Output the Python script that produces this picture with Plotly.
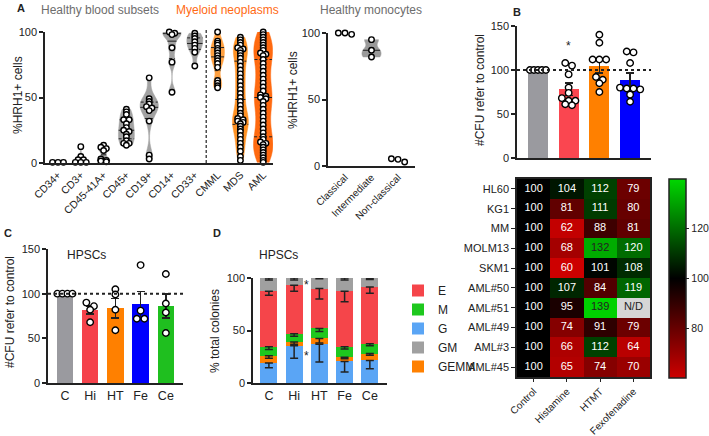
import numpy as np
import plotly.graph_objects as go

W, H = 709, 436
def X(px): return px / W
def Y(py): return 1 - py / H

FONT = "Arial, Liberation Sans, Helvetica, sans-serif"
INK = "#222222"

# ---------------- Panel A: %HRH1+ cells ----------------
a_categories = ["CD34+", "CD3+", "CD45-41A+", "CD45+", "CD19+", "CD14+", "CD33+", "CMML", "MDS", "AML"]
a_cd34 = [0.5, 0.5, 0.5]
a_cd3 = [12.5, 5, 2.5, 2.5, 0.5, 0.5, 0.5]
a_cd4541a = [13.5, 12, 11, 9.5, 3, 2, 1.5, 1]
a_cd45 = [41, 39, 37, 33, 33, 30, 27, 25, 24, 22, 20, 17, 15, 15, 13.5]
a_cd19 = [65, 49, 47, 45, 43, 42, 40, 32, 6, 3]
a_cd14 = [100, 99, 98, 88, 77, 54]
a_cd33 = [99, 97, 95, 92.5, 90, 87.5, 84.5, 74]
a_cmml = [100, 93, 91.5, 90, 87.5, 86, 84, 82, 80, 78, 76, 73, 63, 61, 59, 57.5]
a_mds = [96, 94, 92, 90, 88, 87, 86, 84, 82, 80, 77, 74, 71, 68, 65, 62, 59, 56, 53, 50,
         47, 44, 41, 38, 36, 34, 33, 32, 31, 30, 28, 26, 24, 21, 18, 15, 12, 9, 5, 2]
a_aml = [100, 98, 96, 94, 92, 90, 88, 86, 84, 83, 82, 79, 76, 73, 70, 67, 64, 61, 58, 55,
         52, 51, 50, 49, 47, 44, 41, 38, 35, 32, 29, 26, 23, 20, 18, 16, 15, 14, 12, 10,
         8, 6, 4, 2, 0.5]

mono_categories = ["Classical", "Intermediate", "Non-classical"]
mono_classical = [100, 100, 99]
mono_intermediate = [95, 87, 82]
mono_nonclassical = [5.5, 5, 3]

# ---------------- Panel B ----------------
b_treatments = ["Control", "Histamine", "HTMT", "Fexofenadine"]
b_means = [100, 78, 104.5, 88.5]
b_sem = [0, 7, 8, 8]
b_control_pts = [100, 100, 100, 100, 100]
b_histamine_pts = [108, 105, 95, 80, 74, 68, 65, 65, 61, 60]
b_htmt_pts = [140, 131, 112, 112, 112, 92, 89, 85, 75]
b_fexo_pts = [121, 120, 108, 80, 79, 79, 78, 72, 64]

hm_rows = ["HL60", "KG1", "MM", "MOLM13", "SKM1", "AML#50", "AML#51", "AML#49", "AML#3", "AML#45"]
hm_cols = ["Control", "Histamine", "HTMT", "Fexofenadine"]
hm_values = [
    [100, 104, 112, 79],
    [100, 81, 111, 80],
    [100, 62, 88, 81],
    [100, 68, 132, 120],
    [100, 60, 101, 108],
    [100, 107, 84, 119],
    [100, 95, 139, None],
    [100, 74, 91, 79],
    [100, 66, 112, 64],
    [100, 65, 74, 70],
]

# ---------------- Panel C ----------------
c_groups = ["C", "Hi", "HT", "Fe", "Ce"]
c_means = [100, 81.5, 83.5, 88.5, 86]
c_sem = [0, 4.5, 11, 14, 13.5]
c_points = [
    [100, 100, 100, 100],
    [90, 86, 82, 68],
    [105, 99, 82, 59],
    [132, 81, 72, 72],
    [122, 89, 79, 56],
]

# ---------------- Panel D ----------------
d_groups = ["C", "Hi", "HT", "Fe", "Ce"]
d_G = [19, 35.5, 37, 20.5, 21.5]
d_GEMM = [7, 3.5, 5.5, 4, 6.5]
d_M = [8.5, 8, 9.5, 10, 9.5]
d_E = [53, 46, 38, 53, 54]
d_GM = [12.5, 7, 10, 12.5, 8.5]
d_G_err = [4.5, 12, 17, 10, 8]
d_GEMM_err = [2.5, 2, 4.5, 1.5, 1.5]
d_M_err = [2.5, 2.5, 3, 2, 2]
d_E_err = [4, 5.5, 10, 10, 6]
d_GM_err = [2, 2, 0.8, 2, 1.5]

fig = go.Figure()


def swarm(vals, center, ythr, step):
    v = sorted(vals, reverse=True)
    groups = []
    for val in v:
        if groups and abs(groups[-1][0] - val) <= ythr:
            groups[-1].append(val)
        else:
            groups.append([val])
    xs, ys = [], []
    for g in groups:
        k = len(g)
        for j, val in enumerate(g):
            xs.append(center + (j - (k - 1) / 2) * step)
            ys.append(val)
    return xs, ys


def halfwidth(vals, bw, width, yq):
    v = np.asarray(vals, float)
    grid = np.linspace(v.min(), v.max(), 200)
    def dens(y):
        y = np.atleast_1d(y)
        return np.exp(-0.5 * ((y[None, :] - v[:, None]) / bw) ** 2).sum(0)
    m = dens(grid).max()
    return width / 2 * dens(yq) / m


med_x, med_y, q_x, q_y = {}, {}, {}, {}


def add_violin(vals, pos, xa, ya, width, bw, color, quart=True):
    fig.add_trace(go.Violin(
        x=[pos] * len(vals), y=vals, xaxis=xa, yaxis=ya, orientation="v",
        width=width, bandwidth=bw, spanmode="hard", scalemode="width",
        points=False, fillcolor=color, line=dict(color=color, width=0.5),
        box_visible=False, meanline_visible=False, showlegend=False,
        hoverinfo="skip"))
    key = (xa, ya)
    med_x.setdefault(key, []); med_y.setdefault(key, [])
    q_x.setdefault(key, []); q_y.setdefault(key, [])
    med = float(np.percentile(vals, 50))
    hw = float(halfwidth(vals, bw, width, med)[0])
    med_x[key] += [pos - hw, pos + hw, None]
    med_y[key] += [med, med, None]
    if quart:
        for p in (25, 75):
            q = float(np.percentile(vals, p))
            hwq = float(halfwidth(vals, bw, width, q)[0])
            q_x[key] += [pos - hwq, pos + hwq, None]
            q_y[key] += [q, q, None]


GRAY_V = "#a2a2a2"
a_series = [a_cd34, a_cd3, a_cd4541a, a_cd45, a_cd19, a_cd14, a_cd33, a_cmml, a_mds, a_aml]
a_vwidth = [0.3, 0.5, 0.55, 0.7, 0.8, 0.8, 0.7, 0.6, 0.7, 0.85]
a_bw = [1, 2, 2.5, 5, 6, 4, 4, 5, 7, 9]
a_vcolor = [GRAY_V] * 7 + ["#ffa040", "#ff9224", "#ff6a10"]
for i, vals in enumerate(a_series):
    if np.ptp(vals) > 0:
        add_violin(vals, i, "x", "y", a_vwidth[i], a_bw[i], a_vcolor[i])

add_violin(mono_intermediate, 1, "x2", "y2", 0.72, 3, "#9a9a9a", quart=False)

for key in med_x:
    xa, ya = key
    fig.add_trace(go.Scatter(x=med_x[key], y=med_y[key], xaxis=xa, yaxis=ya, mode="lines",
                             line=dict(color=INK, width=1), showlegend=False, hoverinfo="skip"))
    if q_x[key]:
        fig.add_trace(go.Scatter(x=q_x[key], y=q_y[key], xaxis=xa, yaxis=ya, mode="lines",
                                 line=dict(color=INK, width=1, dash="3px,2px"),
                                 showlegend=False, hoverinfo="skip"))

PT = dict(symbol="circle", color="white", line=dict(color="black", width=1.4))

ax_all, ay_all = [], []
for i, vals in enumerate(a_series):
    xs, ys = swarm(vals, i, 1.2, 0.24)
    ax_all += xs; ay_all += ys
fig.add_trace(go.Scatter(x=ax_all, y=ay_all, xaxis="x", yaxis="y", mode="markers",
                         marker=dict(size=5.5, **PT), cliponaxis=False, showlegend=False))

mx, my = [], []
for i, vals in enumerate([mono_classical, mono_intermediate, mono_nonclassical]):
    xs, ys = swarm(vals, i, 3, 0.25)
    mx += xs; my += ys
fig.add_trace(go.Scatter(x=mx, y=my, xaxis="x2", yaxis="y2", mode="markers",
                         marker=dict(size=5.5, **PT), cliponaxis=False, showlegend=False))

# ---------------- Panel B bars ----------------
b_colors = ["#9a9a9f", "#fa4650", "#ff8000", "#0000ff"]
fig.add_trace(go.Bar(x=list(range(4)), y=b_means, width=0.65, xaxis="x3", yaxis="y3",
                     marker=dict(color=b_colors, line=dict(width=0)),
                     error_y=dict(type="data", array=b_sem, color=INK, thickness=1.5, width=4),
                     showlegend=False, hoverinfo="skip"))
bx, by = [], []
for i, vals in enumerate([b_control_pts, b_histamine_pts, b_htmt_pts, b_fexo_pts]):
    step = 0.13 if i == 0 else 0.22
    xs, ys = swarm(vals, i, 4, step)
    bx += xs; by += ys
fig.add_trace(go.Scatter(x=bx, y=by, xaxis="x3", yaxis="y3", mode="markers",
                         marker=dict(size=6.5, **PT), cliponaxis=False, showlegend=False))

# ---------------- Heatmap ----------------
z = [[np.nan if v is None else v for v in row] for row in hm_values]
fig.add_trace(go.Heatmap(
    z=z, x=hm_cols, y=hm_rows, xaxis="x4", yaxis="y4", zmin=60, zmax=140,
    colorscale=[[0, "rgb(205,0,0)"], [0.5, "rgb(0,0,0)"], [1, "rgb(0,215,0)"]],
    hoverinfo="skip",
    colorbar=dict(x=X(669), xanchor="left", xref="paper", y=Y(278.5), yanchor="middle",
                  thickness=17, thicknessmode="pixels", len=199, lenmode="pixels",
                  outlinewidth=1.5, outlinecolor=INK, ticks="outside", ticklen=3,
                  tickcolor=INK, tickwidth=1, tickvals=[80, 100, 120],
                  tickfont=dict(size=10.5, color=INK, family=FONT), xpad=0, ypad=0)))
nd_mask = [[1 if v is None else np.nan for v in row] for row in hm_values]
fig.add_trace(go.Heatmap(z=nd_mask, x=hm_cols, y=hm_rows, xaxis="x4", yaxis="y4",
                         colorscale=[[0, "#d6d6d6"], [1, "#d6d6d6"]], showscale=False,
                         hoverinfo="skip"))
tx, ty, tt, tc = [], [], [], []
for r, row in enumerate(hm_values):
    for c, v in enumerate(row):
        tx.append(hm_cols[c]); ty.append(hm_rows[r])
        tt.append("N/D" if v is None else str(v))
        tc.append("#222222" if (v is None or v >= 130) else "white")
fig.add_trace(go.Scatter(x=tx, y=ty, text=tt, mode="text", xaxis="x4", yaxis="y4",
                         textfont=dict(color=tc, size=11, family=FONT), showlegend=False,
                         hoverinfo="skip"))

# ---------------- Panel C ----------------
c_colors = ["#9a9a9f", "#f5424b", "#ff8000", "#0000ff", "#1fbf1f"]
fig.add_trace(go.Bar(x=list(range(5)), y=c_means, width=0.66, xaxis="x5", yaxis="y5",
                     marker=dict(color=c_colors, line=dict(width=0)),
                     error_y=dict(type="data", array=c_sem, color=INK, thickness=1.5, width=4),
                     showlegend=False, hoverinfo="skip"))
cx, cy = [], []
for i, vals in enumerate(c_points):
    xs, ys = swarm(vals, i, 5, 0.2 if i == 0 else 0.3)
    cx += xs; cy += ys
fig.add_trace(go.Scatter(x=cx, y=cy, xaxis="x5", yaxis="y5", mode="markers",
                         marker=dict(size=6.5, **PT), cliponaxis=False, showlegend=False))

# ---------------- Panel D ----------------
d_stack = [("G", d_G, d_G_err, "#5aa5f5", 3), ("GEMM", d_GEMM, d_GEMM_err, "#ff8000", 5),
           ("M", d_M, d_M_err, "#1ec81e", 2), ("E", d_E, d_E_err, "#f5454a", 1),
           ("GM", d_GM, d_GM_err, "#a0a0a0", 4)]
idx = list(range(5))
for name, vals, err, col, rank in d_stack:
    fig.add_trace(go.Bar(x=idx, y=vals, width=0.67, xaxis="x6", yaxis="y6", name=name,
                         marker=dict(color=col, line=dict(width=0)), legendrank=rank,
                         showlegend=True, hoverinfo="skip"))
cum = np.zeros(5)
for name, vals, err, col, rank in d_stack:
    cum = cum + np.array(vals)
    fig.add_trace(go.Scatter(x=idx, y=cum.tolist(), xaxis="x6", yaxis="y6", mode="markers",
                             marker=dict(size=1, color="rgba(0,0,0,0)"),
                             error_y=dict(type="data", symmetric=False, array=[0] * 5,
                                          arrayminus=err, color=INK, thickness=1.5, width=4),
                             showlegend=False, hoverinfo="skip", cliponaxis=False))

# ---------------- Layout ----------------
def yax(dom, rng, tickvals, anchor):
    return dict(domain=dom, range=rng, tickvals=tickvals, anchor=anchor, showline=True,
                linecolor=INK, linewidth=1.5, ticks="outside", ticklen=4, tickwidth=1.5,
                tickcolor=INK, showgrid=False, zeroline=False, automargin=False,
                tickfont=dict(size=11, color=INK, family=FONT))

def xax(dom, rng, ticktext, anchor, angle=0, size=11, show=True):
    return dict(domain=dom, range=rng, tickvals=list(range(len(ticktext))), ticktext=ticktext,
                anchor=anchor, showline=True, linecolor=INK, linewidth=1.5, ticks="",
                showgrid=False, zeroline=False, tickangle=angle, showticklabels=show,
                automargin=False, tickfont=dict(size=size, color=INK, family=FONT))

layout = dict(
    width=W, height=H, autosize=False,
    margin=dict(l=0, r=0, t=0, b=0, pad=0, autoexpand=False),
    paper_bgcolor="white", plot_bgcolor="white", font=dict(family=FONT, color=INK),
    barmode="stack", violinmode="overlay",
    xaxis=xax([X(45), X(273)], [-0.57, 9.43], a_categories, "y", angle=-45, size=10.5),
    yaxis=yax([Y(163), Y(32)], [0, 100], [0, 50, 100], "x"),
    xaxis2=xax([X(328), X(415)], [-0.64, 2.64], mono_categories, "y2", angle=-45, size=10),
    yaxis2=yax([Y(166), Y(33)], [0, 100], [0, 50, 100], "x2"),
    xaxis3=xax([X(517), X(651)], [-0.68, 3.68], b_treatments, "y3", show=False),
    yaxis3=yax([Y(158), Y(26)], [0, 150], [0, 50, 100, 150], "x3"),
    xaxis4=dict(domain=[X(517), X(650)], anchor="y4", showline=True, mirror=True,
                linecolor=INK, linewidth=1.5, ticks="outside", ticklen=3, tickcolor=INK,
                tickangle=-45, automargin=False,
                tickfont=dict(size=10, color=INK, family=FONT), showgrid=False),
    yaxis4=dict(domain=[Y(377), Y(179)], anchor="x4", showline=True, mirror=True,
                linecolor=INK, linewidth=1.5, ticks="outside", ticklen=4, tickcolor=INK,
                autorange="reversed", automargin=False,
                tickfont=dict(size=11, color=INK, family=FONT), showgrid=False),
    xaxis5=xax([X(48), X(183)], [-0.67, 4.68], c_groups, "y5", size=12.5),
    yaxis5=yax([Y(383), Y(249)], [0, 150], [0, 50, 100, 150], "x5"),
    xaxis6=xax([X(253), X(387)], [-0.63, 4.68], d_groups, "y6", size=12.5),
    yaxis6=yax([Y(383), Y(278)], [0, 100], [0, 50, 100], "x6"),
    legend=dict(x=X(398), y=Y(276), xanchor="left", yanchor="top", bgcolor="rgba(0,0,0,0)",
                font=dict(size=12, color=INK, family=FONT), tracegroupgap=0, itemwidth=30,
                traceorder="normal"),
    showlegend=True,
)
fig.update_layout(**layout)

# reference lines
fig.add_shape(type="line", xref="x3 domain", x0=0, x1=1, yref="y3", y0=100, y1=100,
              line=dict(color=INK, width=2, dash="dot"))
fig.add_shape(type="line", xref="x5 domain", x0=0, x1=1, yref="y5", y0=100, y1=100,
              line=dict(color=INK, width=2, dash="dot"))
fig.add_shape(type="line", xref="x", x0=6.5, x1=6.5, yref="y domain", y0=0, y1=1.03,
              line=dict(color=INK, width=1.2, dash="3px,2px"))

def ann(text, px, py, size=12, color=INK, bold=False, angle=0):
    fig.add_annotation(text=("<b>%s</b>" % text) if bold else text, x=X(px), y=Y(py),
                       xref="paper", yref="paper", showarrow=False, textangle=angle,
                       font=dict(size=size, color=color, family=FONT),
                       xanchor="center", yanchor="middle")

ann("A", 21, 8, size=11, bold=True)
ann("B", 517, 12, size=11, bold=True)
ann("C", 8, 233, size=11, bold=True)
ann("D", 217, 233, size=11, bold=True)
ann("Healthy blood subsets", 100, 10, color="#6d6d6d")
ann("Myeloid neoplasms", 227, 10, color="#ff6a13")
ann("Healthy monocytes", 371, 10, color="#6d6d6d")
ann("%HRH1+ cells", 18, 95, angle=-90)
ann("%HRH1+ cells", 293, 90, angle=-90)
ann("#CFU refer to control", 480, 90, angle=-90)
ann("#CFU refer to control", 10, 312, angle=-90)
ann("% total colonies", 215, 331, angle=-90)
ann("HPSCs", 86, 255)
ann("HPSCs", 278, 255)

fig.add_annotation(text="*", x=1, y=127, xref="x3", yref="y3", showarrow=False,
                   font=dict(size=12, color=INK, family=FONT))
fig.add_annotation(text="*", x=1.5, y=93, xref="x6", yref="y6", showarrow=False,
                   font=dict(size=12, color=INK, family=FONT))
fig.add_annotation(text="*", x=1.5, y=26, xref="x6", yref="y6", showarrow=False,
                   font=dict(size=12, color=INK, family=FONT))

fig.write_html("out.html", config={"displayModeBar": False},
               post_script="document.body.style.margin='0';document.body.style.padding='0';")
